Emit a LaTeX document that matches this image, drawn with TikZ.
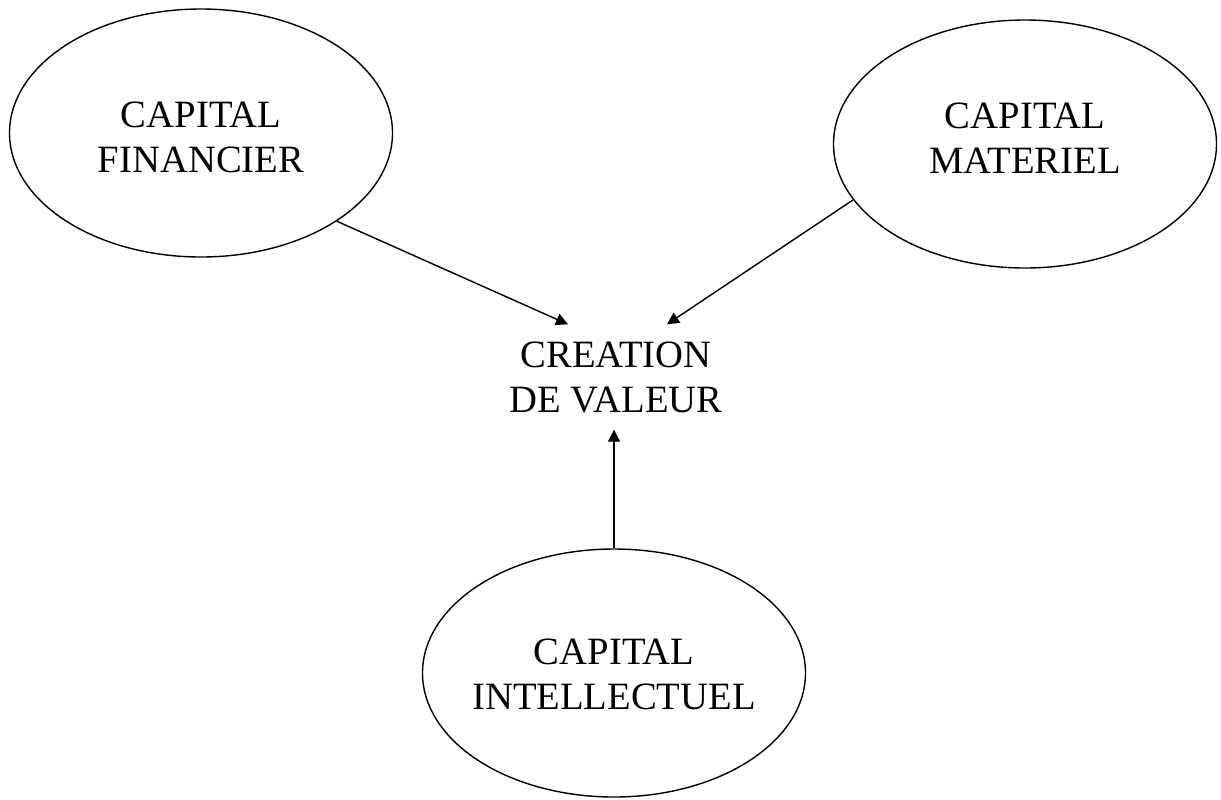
\documentclass[tikz,border=0pt]{standalone}
\usepackage{fontspec}
\setmainfont{Liberation Serif}
\usetikzlibrary{positioning,shapes.geometric,arrows.meta}

\begin{document}
\begin{tikzpicture}[
  capital/.style={draw,ellipse,minimum width=3.83cm,minimum height=2.48cm,inner sep=0pt,inner xsep=-0.9mm,align=center,font=\fontsize{11}{12.8}\selectfont},
  valeur/.style={align=center,minimum height=1.04cm,inner sep=0pt,font=\fontsize{11}{12.8}\selectfont},
  lien/.style={-{Triangle[length=1.2mm,width=1.2mm]}}
]
\useasboundingbox (0,0) rectangle (12.21,-7.99);
\foreach \nom/\x/\y/\h/\t in {fin/2.01/1.33/0.80/FINANCIER, mat/10.25/1.44/0.58/MATERIEL, int/6.14/6.73/0.74/INTELLECTUEL}
  \node[capital,text height=\h cm] (\nom) at (\x,-\y) {CAPITAL\\\t};
\node[valeur] (crea) at (6.16,-3.77) {CREATION\\DE VALEUR};
\draw[lien] (fin.-33) -- ([xshift=-0.48cm]crea.north);
\draw[lien] (mat.198) -- ([xshift=0.51cm]crea.north);
\draw[lien] (int.north) -- (int.north |- crea.south);
\end{tikzpicture}
\end{document}
